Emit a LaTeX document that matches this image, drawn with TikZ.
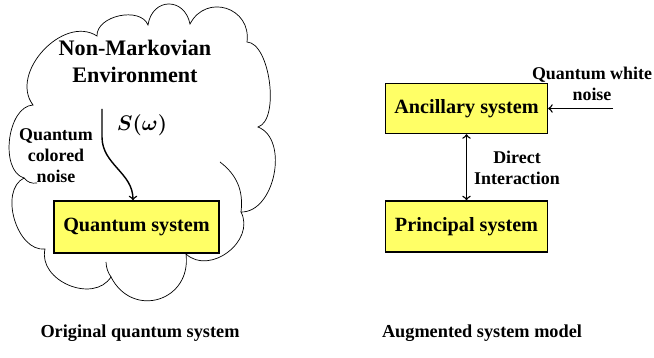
\documentclass[tikz,border=0pt]{standalone}
\usepackage{amsmath}
\usepackage{fontspec}
\setmainfont{Liberation Serif}
\definecolor{jaune}{RGB}{255,255,102}

\begin{document}
\begin{tikzpicture}[x=0.02cm,y=0.02cm,
  boite/.style={draw, line width=0.8pt, fill=jaune, minimum width=3.24cm, minimum height=1cm, font=\fontsize{11.5}{14}\selectfont\bfseries},
  texte/.style={align=center, font=\fontsize{10.2}{12}\selectfont\bfseries},
  bosse/.style={bend left=80, looseness=#1}]

% Cadre
\useasboundingbox (0,0) rectangle (654,-358);

% Nuage
\draw[thin, fill=white] (33,-105) to[bosse=1.09] (97,-36) to[bosse=1.0] (148,-25)
  to[bosse=1.69] (190,-24) to[bosse=1.5] (247,-42) to[bosse=0.69] (258,-127)
  to[bosse=1.0] (241,-212) to[bosse=1.2] (186,-254) to[bosse=1.55] (111,-277)
  to[bosse=1.16] (45,-249) to[bosse=0.98] (24,-178) to[bosse=0.9] (33,-105) -- cycle;
\draw[thin] (220,-162) to[bend left=30] (241,-212);
\draw[thin] (106,-262) to[bend right=15] (111,-277);
\draw[thin] (24,-178) to[bend right=30] (37,-183);

% Textes du nuage
\node[align=center, font=\fontsize{12.6}{15.3}\selectfont\bfseries] (env) at (135,-61) {Non-Markovian\\Environment};
\node[texte] (bruitc) at (56,-156) {Quantum\\colored\\noise};
\node[font=\fontsize{12.5}{14}\selectfont\boldmath] (spec) at (142,-125) {$S(\omega)$};

% Systemes
\node[boite, minimum width=3.3cm, minimum height=1.04cm] (qsys) at (136.5,-227) {Quantum system};
\node[boite] (anc) at (466.5,-108.5) {Ancillary system};
\node[boite, minimum height=1.02cm] (prin) at (466.5,-226.5) {Principal system};

% Bruit S(w)
\coordinate (depart) at (102,-109);
\draw[->, thick] (depart) -- ++(0,-28) to[out=-90, in=90] ([xshift=-0.07cm]qsys.north);

% Interaction directe
\draw[<->, thick] (anc) -- (prin);
\node[texte] (inter) at (517,-168) {Direct\\Interaction};

% Bruit blanc
\coordinate (blanc) at (613,-108.5);
\draw[->, thick] (blanc) -- (anc.east);
\node[texte] (bruitb) at (592,-84) {Quantum white\\noise};

% Legendes
\node[font=\fontsize{10.4}{12}\selectfont\bfseries] (leg1) at (140,-333) {Original quantum system};
\node[font=\fontsize{10.4}{12}\selectfont\bfseries] (leg2) at (482,-333) {Augmented system model};

\end{tikzpicture}
\end{document}
